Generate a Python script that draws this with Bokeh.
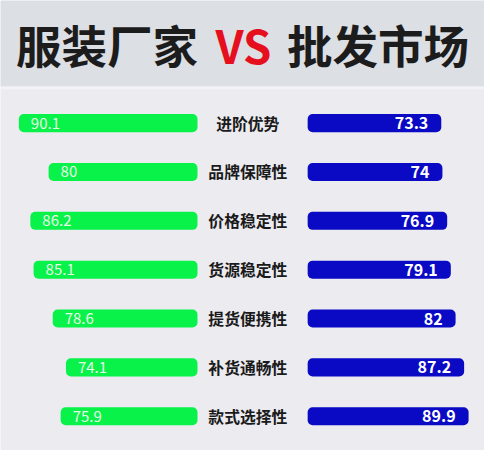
from bokeh.plotting import figure
from bokeh.models import Range1d, ColumnDataSource
from bokeh.core.properties import value
from bokeh.embed import file_html
from bokeh.resources import INLINE

# ---- data ----
categories = ["进阶优势", "品牌保障性", "价格稳定性", "货源稳定性", "提货便携性", "补货通畅性", "款式选择性"]
factory = [90.1, 80, 86.2, 85.1, 78.6, 74.1, 75.9]
market = [73.3, 74, 76.9, 79.1, 82, 87.2, 89.9]
factory_labels = ["90.1", "80", "86.2", "85.1", "78.6", "74.1", "75.9"]
market_labels = ["73.3", "74", "76.9", "79.1", "82", "87.2", "89.9"]
title_left = "服装厂家"
title_mid = "VS"
title_right = "批发市场"

FONT = "Noto Sans CJK SC"
GREEN = "#08f24a"
BLUE = "#0a0ac4"

rows = list(range(len(categories)))
src = ColumnDataSource(dict(row=rows, cat=categories, f=factory, m=market,
                            fl=factory_labels, ml=market_labels))

p = figure(width=484, height=450, output_backend="svg", toolbar_location=None,
           x_range=Range1d(0, 500), y_range=Range1d(6.702, -2.511),
           x_axis_location=None, y_axis_location=None, min_border=0)
p.extra_x_ranges = {"g": Range1d(96.34, -68.13), "b": Range1d(-194.55, 99.57)}
p.extra_y_ranges = {"px": Range1d(466, 0)}
p.grid.visible = False
p.outline_line_color = None
p.background_fill_color = "#ebebf0"
p.border_fill_color = "#ebebf0"

# title band
p.quad(left=0, right=500, top=0, bottom=89, y_range_name="px", color="#dcdfe4", line_color=None)
p.quad(left=0, right=500, top=89, bottom=92, y_range_name="px", color="#f3f3f7", line_color=None)

for txt, xx, align, col in [(title_left, 204, "right", "#1c1c1c"),
                            (title_mid, 251, "center", "#e60f1e"),
                            (title_right, 296, "left", "#1c1c1c")]:
    p.text(x=[xx], y=[45], text=[txt], y_range_name="px", text_align=align,
           text_baseline="middle", text_font=value(FONT), text_font_style="bold",
           text_font_size="45.5px", text_color=col)

# bars
p.hbar(y="row", left="f", right=29.4, height=0.37, source=src, x_range_name="g",
       fill_color=GREEN, line_color=None, border_radius=5)
p.hbar(y="row", left=-7.9, right="m", height=0.37, source=src, x_range_name="b",
       fill_color=BLUE, line_color=None, border_radius=5)

# labels
p.text(x=255.5, y="row", text="cat", source=src, text_align="center", text_baseline="middle",
       text_font=value(FONT), text_font_style="bold", text_font_size="15.8px", text_color="#1a1a1a")
p.text(x="f", y="row", text="fl", source=src, x_range_name="g", x_offset=12,
       text_align="left", text_baseline="middle", text_font=value(FONT),
       text_font_size="15px", text_color="#e8fbe8")
p.text(x="m", y="row", text="ml", source=src, x_range_name="b", x_offset=-13,
       text_align="right", text_baseline="middle", text_font=value(FONT), text_font_style="bold",
       text_font_size="16px", text_color="#ffffff")

open("out.html", "w").write(file_html(p, INLINE))
